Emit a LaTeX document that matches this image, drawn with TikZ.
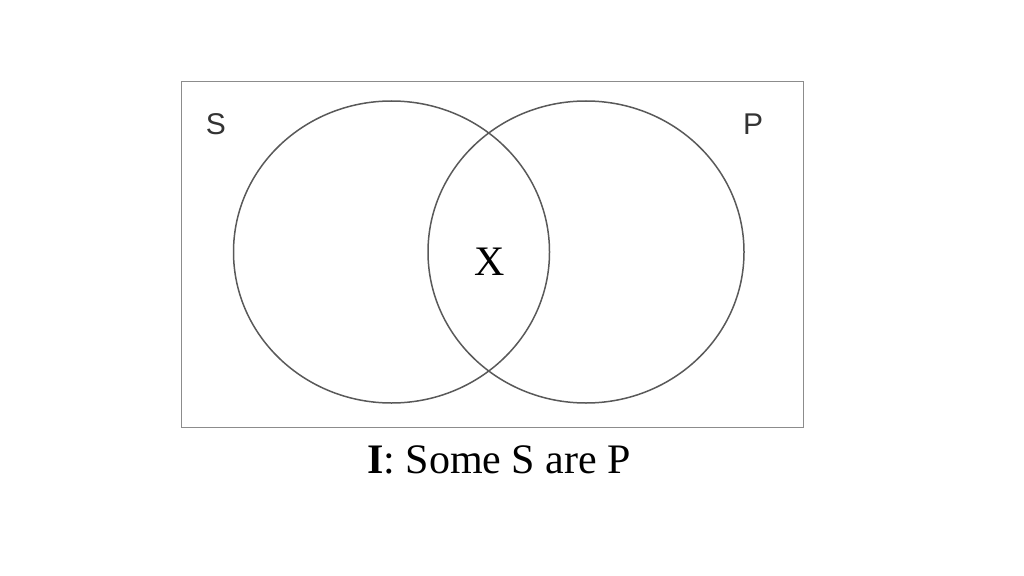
\documentclass[tikz,border=0pt]{standalone}
\usepackage{fontspec}
\setmainfont{Liberation Serif}
\newfontfamily\labelfont{Liberation Sans}
\usetikzlibrary{shapes.geometric}
\tikzstyle{frame}=[draw=black!45,line width=1pt]
\tikzstyle{set}=[draw=black!65,line width=1.5pt,ellipse,minimum width=316pt,minimum height=302pt,inner sep=0pt]
\tikzstyle{setname}=[anchor=base,inner sep=0pt,font=\labelfont\fontsize{30}{30}\selectfont,text=black!80]
\tikzstyle{bigtext}=[anchor=base,inner sep=0pt,font=\fontsize{42}{42}\selectfont]

\begin{document}
\begin{tikzpicture}[x=1pt,y=-1pt]
	\useasboundingbox (0,0) rectangle (1024,575);
	\draw[frame] (181.5,81.5) rectangle (803,427);
	% the two classes
	\node[set] (S) at (391.5,252) {};
	\node[set] (P) at (586,252) {};
	\node[setname] (Sname) at (216,134) {S};
	\node[setname] (Pname) at (753,135) {P};
	% something is in both
	\node[bigtext] (x) at (490,275) {X};
	\node[bigtext] (caption) at (499,473) {\textbf{I}: Some S are P};
\end{tikzpicture}
\end{document}
